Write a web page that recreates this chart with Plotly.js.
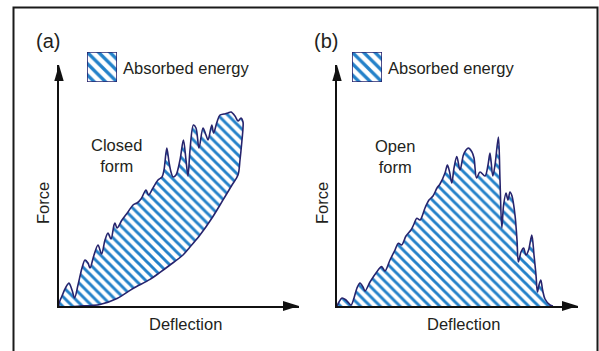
<!DOCTYPE html>
<html>
<head>
<meta charset="utf-8">
<script src="https://cdn.plot.ly/plotly-3.0.1.min.js"></script>
<style>
  html, body { margin: 0; padding: 0; background: #fff; }
  #chart { width: 599px; height: 351px; }
</style>
</head>
<body>
<div id="chart"></div>
<script>
// Force–deflection response (arbitrary units) for the two crush modes.

// (a) Closed form: loading branch (upper) and unloading branch (lower)
const closedUpperDeflection = [0, 1.5, 3.5, 5, 6.5, 7.8, 9.5, 11.5, 13, 14.5, 15.5, 17.5, 19.5, 21.3, 23, 24.5, 26, 27.5, 28, 29,
  31.5, 34.5, 37, 39, 41, 43.5, 44.8, 47, 49.5, 51.5, 52.5, 53.9, 55, 56, 57, 58.5, 60.5, 62.2, 63.5, 64.5,
  65.5, 67.2, 68.5, 70, 72, 73.5, 74.5, 76.4, 77.3, 79, 80.5, 82.5, 84.5, 86, 88, 89.5, 91, 92];
const closedUpperForce = [0, 5, 9.5, 11.5, 8, 4, 10.5, 19, 23, 21.5, 19, 25.5, 30.5, 26, 33, 36.5, 33.5, 40.5, 41.5, 39,
  43, 47, 50.5, 51.5, 53.5, 58, 55.5, 59, 63, 64.5, 68, 79, 72, 67, 64.5, 65.5, 73, 83, 73, 65,
  78, 90.5, 89, 79, 89, 85.5, 83, 90.5, 86.5, 92, 95.5, 96, 96.5, 97, 95, 92.5, 94, 92];
const closedLowerDeflection = [92, 91.5, 90.5, 89.5, 86.5, 83.5, 80.5, 76.5, 70.5, 65.5, 62, 55.5, 50.5, 45.5, 37, 29, 20.5, 10.5, 0];
const closedLowerForce = [89, 83, 73, 65.5, 60.5, 55.5, 50.5, 44, 35.5, 29.5, 25.5, 20.5, 16.8, 13.3, 8.75, 3.75, 0.75, 0, 0];

// (b) Open form: single loading curve back to zero force
const openDeflection = [0, 1, 2.5, 4.5, 7, 8.5, 10, 11.5, 13, 14, 16.5, 19.5, 22.3, 24, 26.5, 29, 30.7, 32.3, 34.5, 37,
  38.5, 39.9, 41.5, 44, 46, 48, 50, 51.5, 54, 55.2, 56.3, 57.4, 58.5, 59.9, 61.5, 63.2, 64.5, 65.7, 67.4, 68.5,
  69.8, 71.5, 74, 75.5, 76.5, 77.9, 79, 80.7, 81.5, 82.4, 83.3, 84.5, 85.5, 86.5, 87.5, 89, 90, 90.7, 92, 93.3,
  94.5, 95.8, 97.4, 98.5, 99.5, 100.2, 101, 101.9, 102.8, 104, 106.5, 108];
const openForce = [0, 2, 4, 3, 0.5, 4, 9, 11.5, 9.5, 7.5, 12, 16.5, 19.7, 17.5, 23, 28, 31.4, 30.5, 35, 38,
  41, 43.9, 43, 49, 53, 55, 59, 61, 66.5, 70.5, 67, 61.5, 69, 74.7, 68, 75.5, 78, 79, 77.2, 74,
  64, 67, 65, 70.5, 76.5, 65, 70.5, 84.5, 63, 39, 50.5, 56.5, 53, 57, 55, 45.5, 33, 22, 27, 29,
  25.5, 28, 35.5, 25.5, 15.5, 7, 10.5, 13, 8, 3.5, 0.5, 0];

const panelLetters = ['(a)', '(b)'];
const formLabels = ['Closed<br>form', 'Open<br>form'];
const legendLabel = 'Absorbed energy';
const xTitle = 'Deflection';
const yTitle = 'Force';

// Page geometry helpers (pixels -> paper fractions)
const W = 599, H = 351;
const px = v => v / W;
const py = v => 1 - v / H;

const NAVY = '#27246d';
const BLUE = '#2381c9';
const INK = '#231f20';
const FONT = 'Liberation Sans, Arial, Helvetica, sans-serif';

const hatch = size => ({ shape: '\\', fgcolor: BLUE, bgcolor: '#ffffff', size: size, solidity: 0.42 });

const closedX = closedUpperDeflection.concat(closedLowerDeflection);
const closedY = closedUpperForce.concat(closedLowerForce);

const curveLine = { color: NAVY, width: 1.6, shape: 'spline', smoothing: 0.9 };

const traces = [
  {
    x: closedX, y: closedY, xaxis: 'x', yaxis: 'y',
    type: 'scatter', mode: 'lines', fill: 'toself',
    fillpattern: hatch(7), fillcolor: 'rgba(0,0,0,0)',
    line: curveLine, hoverinfo: 'skip', showlegend: false
  },
  {
    x: openDeflection, y: openForce, xaxis: 'x2', yaxis: 'y2',
    type: 'scatter', mode: 'lines', fill: 'toself',
    fillpattern: hatch(7), fillcolor: 'rgba(0,0,0,0)',
    line: curveLine, hoverinfo: 'skip', showlegend: false
  },
  // legend swatches
  {
    x: [0, 1, 1, 0, 0], y: [0, 0, 1, 1, 0], xaxis: 'x3', yaxis: 'y3',
    type: 'scatter', mode: 'lines', fill: 'toself',
    fillpattern: hatch(8), fillcolor: 'rgba(0,0,0,0)',
    line: { color: NAVY, width: 1.6 }, hoverinfo: 'skip', showlegend: false
  },
  {
    x: [0, 1, 1, 0, 0], y: [0, 0, 1, 1, 0], xaxis: 'x4', yaxis: 'y4',
    type: 'scatter', mode: 'lines', fill: 'toself',
    fillpattern: hatch(8), fillcolor: 'rgba(0,0,0,0)',
    line: { color: NAVY, width: 1.6 }, hoverinfo: 'skip', showlegend: false
  }
];

const plotAxis = (domain, range, anchor) => ({
  domain: domain, range: range, anchor: anchor,
  showline: true, linecolor: '#111', linewidth: 2,
  showgrid: false, zeroline: false, showticklabels: false, ticks: '',
  fixedrange: true
});
const hiddenAxis = (domain, anchor) => ({
  domain: domain, range: [0, 1], anchor: anchor, visible: false, fixedrange: true
});

const arrowUp = (x, tip) => `M ${px(x)},${py(tip)} L ${px(x - 4.7)},${py(tip + 16)} L ${px(x + 4.7)},${py(tip + 16)} Z`;
const arrowRight = (tip, y) => `M ${px(tip)},${py(y)} L ${px(tip - 16)},${py(y - 5)} L ${px(tip - 16)},${py(y + 5)} Z`;

const shapes = [
  { type: 'rect', xref: 'paper', yref: 'paper', x0: px(13.5), x1: px(597.5), y0: py(7.5), y1: py(362),
    line: { color: '#1a1a1a', width: 2 }, fillcolor: 'rgba(0,0,0,0)' },
  { type: 'path', xref: 'paper', yref: 'paper', path: arrowUp(59, 65), fillcolor: '#111', line: { width: 0 } },
  { type: 'path', xref: 'paper', yref: 'paper', path: arrowRight(299, 306), fillcolor: '#111', line: { width: 0 } },
  { type: 'path', xref: 'paper', yref: 'paper', path: arrowUp(337, 65), fillcolor: '#111', line: { width: 0 } },
  { type: 'path', xref: 'paper', yref: 'paper', path: arrowRight(578, 306), fillcolor: '#111', line: { width: 0 } }
];

const note = (text, x, y, size, opts) => Object.assign({
  text: text, x: px(x), y: py(y), xref: 'paper', yref: 'paper',
  xanchor: 'center', yanchor: 'middle', showarrow: false,
  font: { family: FONT, size: size, color: INK }
}, opts || {});

const annotations = [
  note(panelLetters[0], 47.5, 41, 20),
  note(panelLetters[1], 325.5, 41, 20),
  note(legendLabel, 121, 68, 16.5, { xanchor: 'left' }),
  note(legendLabel, 386, 68, 16.5, { xanchor: 'left' }),
  note(formLabels[0], 116, 155, 16.5),
  note(formLabels[1], 394.5, 156, 16.5),
  note(xTitle, 185, 324, 16.5),
  note(xTitle, 463, 324, 16.5),
  note(yTitle, 43, 203, 16.5, { textangle: -90 }),
  note(yTitle, 322, 203, 16.5, { textangle: -90 })
];

const layout = {
  width: W, height: H,
  margin: { l: 0, r: 0, t: 0, b: 0, pad: 0 },
  paper_bgcolor: '#ffffff', plot_bgcolor: 'rgba(0,0,0,0)',
  showlegend: false,
  font: { family: FONT, color: INK },
  xaxis: plotAxis([px(59), px(299)], [0, 120], 'y'),
  yaxis: plotAxis([py(306), py(65)], [0, 120.5], 'x'),
  xaxis2: plotAxis([px(337), px(578)], [0, 120.5], 'y2'),
  yaxis2: plotAxis([py(306), py(65)], [0, 120.5], 'x2'),
  xaxis3: hiddenAxis([px(87), px(117)], 'y3'),
  yaxis3: hiddenAxis([py(82), py(52)], 'x3'),
  xaxis4: hiddenAxis([px(352), px(382)], 'y4'),
  yaxis4: hiddenAxis([py(82), py(52)], 'x4'),
  shapes: shapes,
  annotations: annotations
};

Plotly.newPlot('chart', traces, layout, { staticPlot: true, displayModeBar: false });
</script>
</body>
</html>
